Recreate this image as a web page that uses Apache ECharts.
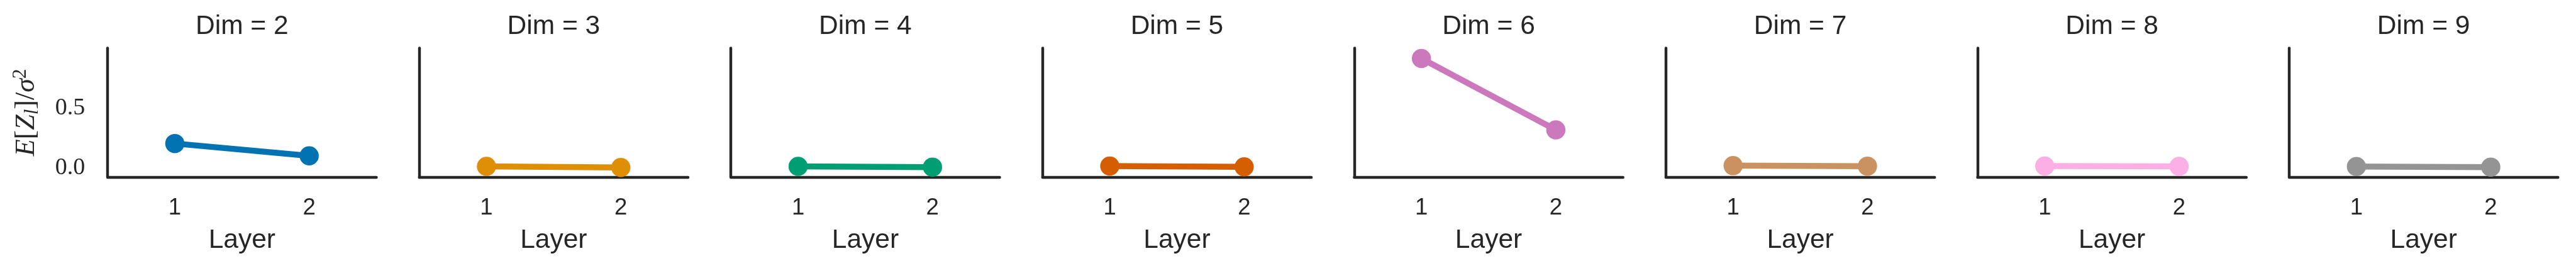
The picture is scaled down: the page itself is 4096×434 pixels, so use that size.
<!DOCTYPE html>
<html><head><meta charset="utf-8">
<script src="https://cdn.jsdelivr.net/npm/echarts@6/dist/echarts.min.js"></script>
<style>html,body{margin:0;padding:0;background:#fff}#c{width:4096px;height:434px}</style>
</head><body><div id="c"></div>
<script>
// ---- data ----
const dims = [2, 3, 4, 5, 6, 7, 8, 9];
const layers = [1, 2];
const layer1Values = [0.204, 0.013, 0.013, 0.016, 0.914, 0.019, 0.016, 0.012];
const layer2Values = [0.101, 0.004, 0.007, 0.009, 0.318, 0.015, 0.013, 0.007];
const yTickValues = [0, 0.5];
const xTickValues = [1, 2];
const panelColors = ['#0173b2', '#de8f05', '#029e73', '#d55e00', '#cc78bc', '#ca9161', '#fbafe4', '#949494'];

// ---- layout ----
const S = 0.87;
const ink = '#262626';
const sans = "'Liberation Sans', Arial, sans-serif";
const serif = "'Liberation Serif', 'DejaVu Serif', serif";
const gLeft0 = 196.7 * S, gStep = 569.6 * S, gW = 491.2 * S;
const gTop = 88 * S, gH = (323.3 - 88) * S;

const grid = [], xAxis = [], yAxis = [], series = [], title = [];
dims.forEach((d, i) => {
  const left = gLeft0 + i * gStep;
  grid.push({left: left, top: gTop, width: gW, height: gH, containLabel: false});
  title.push({
    text: 'Dim = ' + d, left: left + gW / 2, top: 21, textAlign: 'center', padding: 0,
    textStyle: {fontFamily: sans, fontSize: 42.5, fontWeight: 'normal', color: ink}
  });
  xAxis.push({
    type: 'value', gridIndex: i, min: 0.5, max: 2.5,
    name: 'Layer', nameLocation: 'middle', nameGap: 80,
    nameTextStyle: {fontFamily: sans, fontSize: 42.5, color: ink},
    axisLine: {show: true, onZero: false, lineStyle: {color: ink, width: 4.4}},
    axisTick: {show: false}, splitLine: {show: false},
    axisLabel: {customValues: xTickValues, margin: 31.5, fontFamily: sans, fontSize: 36.5, color: ink,
      formatter: v => String(v)}
  });
  const y = {
    type: 'value', gridIndex: i, min: -0.075, max: 1.0,
    axisLine: {show: true, lineStyle: {color: ink, width: 4.4}},
    axisTick: {show: false}, splitLine: {show: false},
    axisLabel: {show: i === 0, customValues: yTickValues, margin: 36, fontFamily: serif, fontSize: 38, color: ink,
      formatter: v => v.toFixed(1)}
  };
  if (i === 0) {
    y.name = '{i|E}{r|[}{i|Z}{sub|l}{r|]/}{i|σ}{sup|2}';
    y.nameLocation = 'middle';
    y.nameRotate = 90;
    y.nameGap = 104;
    y.nameTextStyle = {
      color: ink, fontFamily: serif, fontSize: 44,
      rich: {
        i: {fontFamily: serif, fontStyle: 'italic', fontSize: 44, color: ink, lineHeight: 50},
        r: {fontFamily: serif, fontSize: 44, color: ink, lineHeight: 50},
        sub: {fontFamily: serif, fontStyle: 'italic', fontSize: 31, color: ink, lineHeight: 26, verticalAlign: 'bottom'},
        sup: {fontFamily: serif, fontSize: 31, color: ink, lineHeight: 26, verticalAlign: 'top'}
      }
    };
  }
  yAxis.push(y);
  series.push({
    type: 'line', xAxisIndex: i, yAxisIndex: i,
    data: layers.map((l, k) => [l, k === 0 ? layer1Values[i] : layer2Values[i]]),
    symbol: 'circle', symbolSize: 30.5, showSymbol: true,
    lineStyle: {color: panelColors[i], width: 9.5},
    itemStyle: {color: panelColors[i]},
    silent: true, animation: false, clip: false
  });
});

const chart = echarts.init(document.getElementById('c'), null, {renderer: 'canvas'});
chart.setOption({backgroundColor: '#fff', animation: false, title, grid, xAxis, yAxis, series});
</script>
</body></html>
